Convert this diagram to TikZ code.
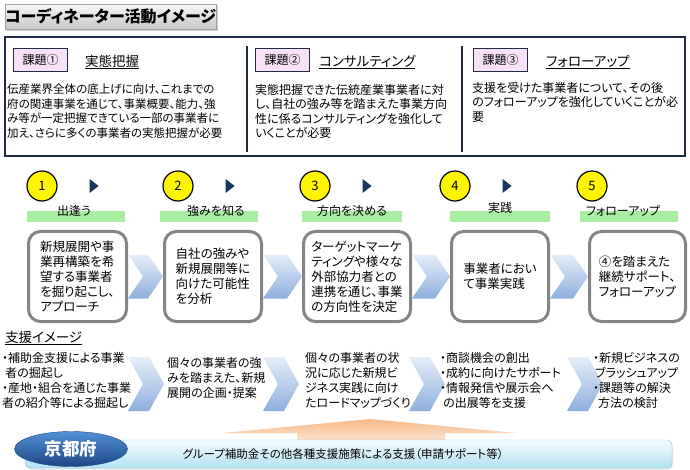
\documentclass[tikz,border=0pt]{standalone}
\usepackage{fontspec}
\setmainfont{Noto Sans CJK JP}[RawFeature=+palt]
\usetikzlibrary{positioning,calc,shapes.geometric,shadows}

\definecolor{frameblue}{HTML}{1F2A44}
\definecolor{badgepink}{HTML}{F7E1F7}
\definecolor{stepyellow}{HTML}{FFF500}
\definecolor{arrownavy}{HTML}{17375E}
\definecolor{bargreen}{HTML}{A8EEA0}
\definecolor{boxgray}{HTML}{858585}
\definecolor{chevlight}{HTML}{E6EEF9}
\definecolor{chevdark}{HTML}{8DAFDD}
\definecolor{kyototop}{HTML}{5290D4}
\definecolor{kyotobot}{HTML}{1C4786}
\definecolor{bandtop}{HTML}{F4FBFE}
\definecolor{bandbot}{HTML}{B3E1F2}
\definecolor{bandline}{HTML}{8CC6DA}
\definecolor{orangetop}{HTML}{F7B988}
\definecolor{orangebot}{HTML}{FDE6D3}

\begin{document}
\begin{tikzpicture}[
			x=1pt,y=-1pt,
			titlebox/.style={
				draw=gray!75,
				top color=gray!6,
				bottom color=gray!45,
				drop shadow={opacity=0.35,shadow xshift=1.5pt,shadow yshift=-1.5pt},
				minimum width=211pt,
				minimum height=25pt,
				inner sep=0pt,
				font=\fontsize{16}{18}\selectfont\bfseries
			},
			issue/.style={
				draw=frameblue,
				line width=1pt,
				fill=badgepink,
				minimum width=54pt,
				minimum height=23pt,
				inner sep=0pt,
				font=\fontsize{12}{14}\selectfont
			},
			issuehead/.style={
				inner sep=0pt,
				font=\fontsize{13.5}{15}\selectfont
			},
			issuetext/.style={
				anchor=north west,
				inner sep=0pt,
				align=left,
				font=\fontsize{12}{14.5}\selectfont
			},
			num/.style={
				circle,
				draw=black,
				line width=1.2pt,
				fill=stepyellow,
				minimum size=30pt,
				inner sep=0pt,
				font=\fontsize{13}{14}\selectfont
			},
			phasebar/.style={
				fill=bargreen,
				minimum height=11pt,
				inner sep=0pt
			},
			phaselabel/.style={
				inner sep=0pt,
				font=\fontsize{12}{14}\selectfont
			},
			stepbox/.style={
				draw=boxgray,
				line width=3pt,
				rounded corners=12pt,
				fill=white,
				minimum height=90pt,
				align=left,
				inner sep=0pt,
				font=\fontsize{12.5}{15}\selectfont
			},
			chev/.style={
				top color=chevlight,
				bottom color=chevdark
			},
			aidtext/.style={
				anchor=north west,
				inner sep=0pt,
				align=left,
				font=\fontsize{12}{15}\selectfont
			},
			band/.style={
				draw=bandline,
				rounded corners=5pt,
				top color=bandtop,
				bottom color=bandbot,
				drop shadow={opacity=0.2,shadow xshift=1pt,shadow yshift=-1.5pt},
				minimum width=647pt,
				minimum height=28pt,
				inner sep=0pt,
				font=\fontsize{11.5}{13}\selectfont
			},
			kyoto/.style={
				ellipse,
				draw=kyotobot,
				top color=kyototop,
				bottom color=kyotobot,
				minimum width=113pt,
				minimum height=35pt,
				inner sep=0pt,
				text=white,
				font=\fontsize{17.5}{19}\selectfont\bfseries
			}
			]
			
			\useasboundingbox (0,0) rectangle (690,470);
			\fill[white] (0,0) rectangle (690,470);
			
			\node[titlebox,anchor=north west] (title) at (5,4) {コーディネーター活動イメージ};
			
			\draw[frameblue,line width=2pt] (5,37) rectangle (685,156);
			\draw[frameblue,line width=1.5pt] (247,46) -- (247,152) (462,46) -- (462,152);
			
			\node[issue,anchor=north west] (k1) at (13,48) {課題①};
			\node[issuehead,right=17pt of k1,yshift=-2pt] (k1h) {\underline{実態把握}};
			\node[issuetext,font=\fontsize{11.5}{14.5}\selectfont] (k1t) at (7,84)
			{伝産業界全体の底上げに向け、これまでの\\府の関連事業を通じて、事業概要、能力、強\\み等が一定把握できている一部の事業者に\\加え、さらに多くの事業者の実態把握が必要};
			
			\node[issue,anchor=north west] (k2) at (255,48) {課題②};
			\node[issuehead,right=9pt of k2,yshift=-2pt] (k2h) {\underline{コンサルティング}};
			\node[issuetext] (k2t) at (255,84)
			{実態把握できた伝統産業事業者に対\\し、自社の強み等を踏まえた事業方向\\性に係るコンサルティングを強化して\\いくことが必要};
			
			\node[issue,anchor=north west] (k3) at (473,48) {課題③};
			\node[issuehead,right=18pt of k3,yshift=-2pt] (k3h) {\underline{フォローアップ}};
			\node[issuetext] (k3t) at (472,82)
			{支援を受けた事業者について、その後\\のフォローアップを強化していくことが必\\要};
			
			\foreach \i/\x in {1/42,2/178,3/315,4/455,5/592}
				\node[num] (c\i) at (\x,186) {\i};
			\foreach \i in {1,...,4}
				\fill[arrownavy] ($(c\i.east)+(32,-7)$) -- ++(9,7) -- ++(-9,7) -- cycle;
			
			\foreach \i/\x/\w in {1/76/98,2/209/98,3/352/100,4/500/100,5/629/98}
				\node[phasebar,minimum width=\w pt] (p\i) at (\x,216.5) {};
			\foreach \i/\x/\y/\t in {1/74/211/出逢う,2/216/211/強みを知る,3/352/211/方向を決める,4/500/208/実践,5/623/211/フォローアップ}
				\node[phaselabel] (l\i) at (\x,\y) {\t};
			
			\node[stepbox,minimum width=98pt] (s1) at (77.5,276.5)
			{新規展開や事\\業再構築を希\\望する事業者\\を掘り起こし、\\アプローチ};
			\node[stepbox,minimum width=97pt] (s2) at (213,276.5)
			{自社の強みや\\新規展開等に\\向けた可能性\\を分析};
			\node[stepbox,minimum width=107pt] (s3) at (357,276.5)
			{ターゲットマーケ\\ティングや様々な\\外部協力者との\\連携を通じ、事業\\の方向性を決定};
			\node[stepbox,minimum width=97pt] (s4) at (500,276.5)
			{事業者におい\\て事業実践};
			\node[stepbox,minimum width=96pt] (s5) at (637.5,276.5)
			{④を踏まえた\\継続サポート、\\フォローアップ};
			
			\foreach \a/\b in {s1/s2,s2/s3,s3/s4,s4/s5}
				\path[chev] ($(\a.east)+(0,-22)$) -- ($(\b.west)+(-15,-22)$) -- (\b.west)
				-- ($(\b.west)+(-15,22)$) -- ($(\a.east)+(0,22)$) -- ($(\a.east)+(15,0)$) -- cycle;
			
			\node[anchor=west,inner sep=0pt,font=\fontsize{13.5}{15}\selectfont] (aid) at (5,338) {\underline{支援イメージ}};
			
			\foreach \x in {128,263,409,567}
				\path[chev] (\x,357) -- ++(21,0) -- ++(15,27) -- ++(-15,27) -- ++(-21,0) -- ++(15,-27) -- cycle;
			
			\node[aidtext] (t1) at (2,352)
			{・補助金支援による事業\\\hspace*{3pt}者の掘起し\\・産地・組合を通じた事業\\者の紹介等による掘起し};
			\node[aidtext] (t2) at (167,357)
			{個々の事業者の強\\みを踏まえた、新規\\展開の企画・提案};
			\node[aidtext] (t3) at (305,352)
			{個々の事業者の状\\況に応じた新規ビ\\ジネス実践に向け\\たロードマップづくり};
			\node[aidtext] (t4) at (440,352)
			{・商談機会の創出\\・成約に向けたサポート\\・情報発信や展示会へ\\\hspace*{3pt}の出展等を支援};
			\node[aidtext] (t5) at (593,352)
			{・新規ビジネスの\\\hspace*{2pt}ブラッシュアップ\\・課題等の解決\\\hspace*{5pt}方法の検討};
			
			\path[top color=orangetop,bottom color=orangebot] (222,433) -- (370,419) -- (516,433)
			-- (445,433) -- (445,442) -- (297,442) -- (297,433) -- cycle;
			
			\node[band] (band) at (348.5,454) {\hspace*{-11pt}グループ補助金その他各種支援施策による支援（申請サポート等）};
			
			\node[kyoto] (kyoto) at (71,449) {京都府};
			
		\end{tikzpicture}
\end{document}
